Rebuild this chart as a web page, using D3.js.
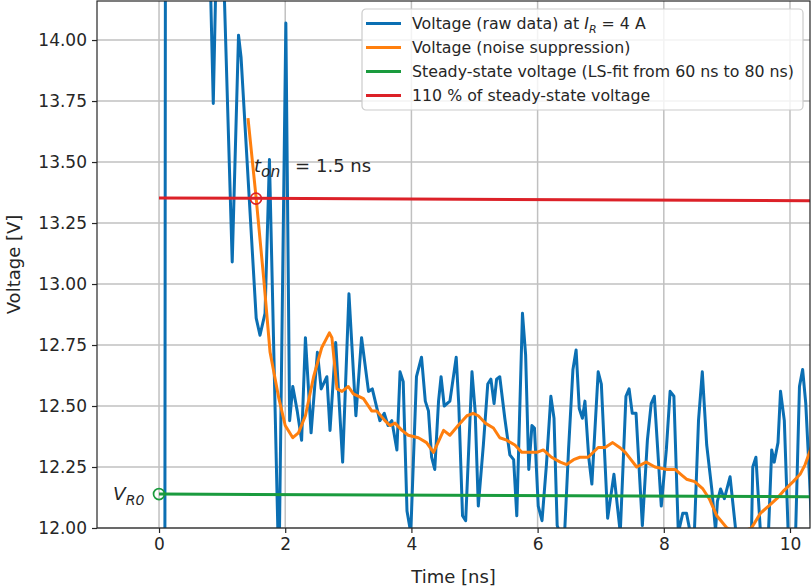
<!DOCTYPE html>
<html>
<head>
<meta charset="utf-8">
<style>
  body { margin: 0; background: #fff; }
  text { font-family: "DejaVu Sans", sans-serif; fill: #262626; }
</style>
</head>
<body>
<svg width="812" height="587"></svg>
<script src="https://d3js.org/d3.v7.min.js"></script>
<script>
// raw measurement (ns, V)
const rawT = [-1.00, 0.09, 0.11, 0.50, 0.78, 0.86, 0.93, 1.01, 1.16, 1.26, 1.30, 1.54, 1.60, 1.68, 1.75, 1.90,
  2.01, 2.07, 2.12, 2.19, 2.26, 2.32, 2.41, 2.51, 2.57, 2.66, 2.71, 2.80, 2.91, 3.01, 3.12, 3.21, 3.32, 3.38,
  3.50, 3.57, 3.63, 3.69, 3.77, 3.82, 3.87, 3.93, 3.99, 4.08, 4.16, 4.22, 4.27, 4.32, 4.37, 4.43, 4.47, 4.52,
  4.61, 4.71, 4.75, 4.81, 4.86, 4.96, 5.01, 5.06, 5.14, 5.21, 5.26, 5.31, 5.35, 5.40, 5.48, 5.56, 5.62, 5.67,
  5.76, 5.81, 5.86, 5.91, 5.95, 6.01, 6.07, 6.14, 6.21, 6.26, 6.31, 6.37, 6.43, 6.49, 6.56, 6.61, 6.66, 6.71,
  6.75, 6.81, 6.86, 6.96, 7.01, 7.11, 7.21, 7.31, 7.40, 7.45, 7.50, 7.56, 7.66, 7.74, 7.80, 7.85, 7.96, 8.04,
  8.10, 8.16, 8.23, 8.30, 8.36, 8.42, 8.48, 8.55, 8.61, 8.68, 8.76, 8.82, 8.85, 8.90, 8.96, 9.05, 9.14, 9.21,
  9.29, 9.39, 9.41, 9.46, 9.53, 9.59, 9.66, 9.71, 9.75, 9.81, 9.85, 9.91, 9.97, 10.03, 10.09, 10.15, 10.20,
  10.25, 10.31, 10.35];
const rawV = [11.00, 11.00, 17.00, 16.00, 14.60, 13.74, 14.60, 14.40, 13.09, 14.02, 13.93, 12.86, 12.79, 12.88, 13.51, 11.80,
  14.07, 12.44, 12.58, 12.48, 12.36, 12.78, 12.39, 12.72, 12.57, 12.62, 12.40, 12.76, 12.27, 12.96, 12.46, 12.78, 12.56, 12.57,
  12.44, 12.47, 12.42, 12.44, 12.32, 12.64, 12.60, 12.07, 11.98, 12.62, 12.70, 12.52, 12.48, 12.29, 12.24, 12.52, 12.62, 12.50,
  12.52, 12.70, 12.51, 12.05, 12.03, 12.64, 12.48, 12.09, 12.34, 12.59, 12.61, 12.51, 12.61, 12.62, 12.45, 12.30, 12.28, 12.05,
  12.88, 12.71, 12.24, 12.42, 12.41, 12.09, 12.03, 12.26, 12.54, 12.45, 12.01, 11.97, 11.99, 12.32, 12.65, 12.73, 12.49, 12.45,
  12.52, 12.29, 12.18, 12.64, 12.59, 12.04, 12.22, 11.98, 12.54, 12.57, 12.47, 12.47, 12.01, 12.36, 12.51, 12.54, 12.09, 12.32,
  12.56, 12.54, 11.98, 12.06, 12.06, 11.98, 11.95, 12.44, 12.64, 12.34, 12.16, 11.99, 12.11, 12.16, 12.12, 12.21, 11.99, 11.93,
  11.93, 11.99, 12.25, 12.29, 11.99, 11.93, 11.99, 12.32, 12.27, 12.35, 12.56, 12.44, 11.99, 11.93, 11.99, 12.58, 12.65,
  12.51, 12.20, 11.95];

// smoothed (noise suppression)
const smoothT = [1.41, 1.54, 1.66, 1.76, 1.90, 2.00, 2.12, 2.21, 2.32, 2.45, 2.58, 2.70, 2.74, 2.82, 2.90, 3.00,
  3.08, 3.24, 3.37, 3.45, 3.58, 3.66, 3.74, 3.85, 3.95, 4.11, 4.24, 4.35, 4.51, 4.61, 4.74, 4.88, 4.98, 5.06,
  5.17, 5.30, 5.40, 5.51, 5.64, 5.75, 5.91, 5.99, 6.09, 6.22, 6.36, 6.46, 6.57, 6.67, 6.80, 6.96, 7.07, 7.19,
  7.30, 7.39, 7.57, 7.72, 7.86, 8.05, 8.18, 8.27, 8.36, 8.49, 8.62, 8.72, 8.84, 9.00, 9.19, 9.39, 9.53, 9.66,
  9.79, 9.89, 10.05, 10.16, 10.24, 10.31, 10.35];
const smoothV = [13.68, 13.35, 13.02, 12.72, 12.53, 12.42, 12.37, 12.39, 12.46, 12.62, 12.74, 12.80, 12.78, 12.57, 12.56, 12.58,
  12.55, 12.53, 12.48, 12.48, 12.44, 12.42, 12.43, 12.40, 12.38, 12.37, 12.35, 12.31, 12.40, 12.38, 12.42, 12.46, 12.47, 12.46,
  12.43, 12.41, 12.37, 12.36, 12.34, 12.31, 12.31, 12.31, 12.32, 12.29, 12.27, 12.26, 12.28, 12.29, 12.29, 12.33, 12.33, 12.35,
  12.33, 12.31, 12.25, 12.27, 12.25, 12.24, 12.24, 12.22, 12.20, 12.19, 12.16, 12.12, 12.05, 12.00, 11.98, 12.00, 12.06, 12.09,
  12.12, 12.15, 12.19, 12.22, 12.26, 12.31, 12.34];

// steady-state fit and 110 % threshold
const steadyT = [0, 10.4];
const steadyV = [12.139, 12.128];
const thresholdV = [13.353, 13.341];

const tOn = 1.537, vOn = 13.35;
const vR0 = 12.139;

const xTicks = [0, 2, 4, 6, 8, 10];
const yTicks = [12.0, 12.25, 12.5, 12.75, 13.0, 13.25, 13.5, 13.75, 14.0];

const blue = "#0b6fb3", orange = "#ff7f0e", green = "#1a9b3e", red = "#dc2128";
const lw = 3;

const svg = d3.select("svg");
const margin = { left: 97, top: 1, right: 2, bottom: 59 };
const W = 812 - margin.left - margin.right;
const H = 587 - margin.top - margin.bottom;

const x = d3.scaleLinear().domain([-0.983, 10.317]).range([0, W]);
const y = d3.scaleLinear().domain([12.0, 14.16]).range([H, 0]);

const g = svg.append("g").attr("transform", `translate(${margin.left},${margin.top})`);

// grid
g.append("g").selectAll("line").data(xTicks).join("line")
  .attr("x1", d => x(d)).attr("x2", d => x(d)).attr("y1", 0).attr("y2", H)
  .attr("stroke", "#c0c0c0").attr("stroke-width", 1.5);
g.append("g").selectAll("line").data(yTicks).join("line")
  .attr("y1", d => y(d)).attr("y2", d => y(d)).attr("x1", 0).attr("x2", W)
  .attr("stroke", "#c0c0c0").attr("stroke-width", 1.5);

g.append("clipPath").attr("id", "clip").append("rect").attr("width", W).attr("height", H);
const plot = g.append("g").attr("clip-path", "url(#clip)");

const line = d3.line().x(d => x(d[0])).y(d => y(d[1]));

plot.append("path").datum(rawT.map((t, i) => [t, rawV[i]]))
  .attr("d", line).attr("fill", "none").attr("stroke", blue).attr("stroke-width", lw)
  .attr("stroke-linejoin", "round");
plot.append("path").datum(smoothT.map((t, i) => [t, smoothV[i]]))
  .attr("d", line).attr("fill", "none").attr("stroke", orange).attr("stroke-width", lw)
  .attr("stroke-linejoin", "round");
plot.append("path").datum(steadyT.map((t, i) => [t, steadyV[i]]))
  .attr("d", line).attr("fill", "none").attr("stroke", green).attr("stroke-width", lw);
plot.append("path").datum(steadyT.map((t, i) => [t, thresholdV[i]]))
  .attr("d", line).attr("fill", "none").attr("stroke", red).attr("stroke-width", lw);

// markers
plot.append("circle").attr("cx", x(tOn)).attr("cy", y(vOn)).attr("r", 5.5)
  .attr("fill", "none").attr("stroke", red).attr("stroke-width", 1.7);
plot.append("circle").attr("cx", x(0)).attr("cy", y(vR0)).attr("r", 5.5)
  .attr("fill", "none").attr("stroke", green).attr("stroke-width", 1.7);

// annotations
const ax = x(tOn), ay = y(vOn) - 27;
const ton = g.append("text").attr("y", ay).style("font-size", "18px");
ton.append("tspan").attr("x", ax - 2).style("font-style", "italic").text("t");
ton.append("tspan").attr("x", ax + 5).attr("dy", 5).style("font-style", "italic").style("font-size", "15.5px").text("on");
ton.append("tspan").attr("x", ax + 39).attr("dy", -5).text("=");
ton.append("tspan").attr("x", ax + 60).text("1.5 ns");

const vr = g.append("text").attr("x", x(0) - 46).attr("y", y(vR0) + 6).style("font-size", "18.5px");
vr.append("tspan").style("font-style", "italic").text("V");
vr.append("tspan").style("font-style", "italic").style("font-size", "14px").attr("dy", 4.5).text("R0");

// axes
const xAxis = g.append("g").attr("transform", `translate(0,${H})`)
  .call(d3.axisBottom(x).tickValues(xTicks).tickSize(5).tickPadding(5).tickFormat(d3.format("d")));
const yAxis = g.append("g")
  .call(d3.axisLeft(y).tickValues(yTicks).tickSize(5).tickPadding(5).tickFormat(d3.format(".2f")));
[xAxis, yAxis].forEach(a => {
  a.select(".domain").remove();
  a.selectAll(".tick line").attr("stroke", "#262626").attr("stroke-width", 1.2);
  a.selectAll(".tick text").style("font-size", "17px").attr("fill", "#262626");
});

g.append("rect").attr("width", W).attr("height", H)
  .attr("fill", "none").attr("stroke", "#262626").attr("stroke-width", 1.2);

g.append("text").attr("x", W / 2).attr("y", H + 55).attr("text-anchor", "middle")
  .style("font-size", "18px").text("Time [ns]");
svg.append("text").attr("transform", `translate(20,${margin.top + H / 2}) rotate(-90)`)
  .attr("text-anchor", "middle").style("font-size", "18px").text("Voltage [V]");

// legend
const legendItems = [
  { color: blue, parts: [["Voltage (raw data) at ", ""], ["I", "i"], ["R", "s"], [" = 4 A", ""]] },
  { color: orange, parts: [["Voltage (noise suppression)", ""]] },
  { color: green, parts: [["Steady-state voltage (LS-fit from 60 ns to 80 ns)", ""]] },
  { color: red, parts: [["110 % of steady-state voltage", ""]] }
];
const lg = svg.append("g").attr("transform", "translate(362,9)");
lg.append("rect").attr("width", 441).attr("height", 101).attr("rx", 4)
  .attr("fill", "#fff").attr("fill-opacity", 0.8).attr("stroke", "#cccccc").attr("stroke-width", 1.2);
legendItems.forEach((item, i) => {
  const cy = 14.5 + i * 24;
  lg.append("line").attr("x1", 4).attr("x2", 39).attr("y1", cy).attr("y2", cy)
    .attr("stroke", item.color).attr("stroke-width", lw);
  const t = lg.append("text").attr("x", 50).attr("y", cy + 5.5).style("font-size", "15.8px");
  let shifted = false;
  item.parts.forEach(([s, kind]) => {
    const sp = t.append("tspan").text(s);
    if (kind === "i") sp.style("font-style", "italic");
    if (kind === "s") { sp.style("font-style", "italic").style("font-size", "11px").attr("dy", 4); shifted = true; }
    else if (shifted) { sp.attr("dy", -4); shifted = false; }
  });
});
</script>
</body>
</html>
